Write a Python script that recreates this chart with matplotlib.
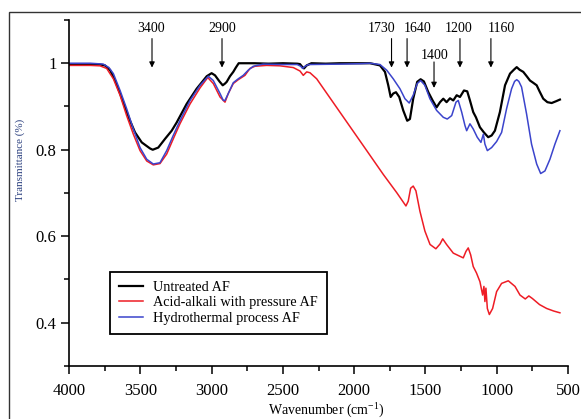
import numpy as np
import matplotlib.pyplot as plt
from matplotlib.patches import Rectangle
from matplotlib.ticker import MultipleLocator

plt.rcParams['font.family'] = ['Liberation Serif', 'DejaVu Serif']
plt.rcParams['mathtext.fontset'] = 'custom'
plt.rcParams['mathtext.rm'] = 'Liberation Serif'

# FTIR spectra (wavenumber cm-1, transmittance)
untreated_wn = [4000, 3850, 3783, 3748, 3712, 3677, 3642, 3607, 3572, 3537, 3490, 3432, 3413,
                3374, 3327, 3280, 3245, 3175, 3105, 3034, 3000, 2976, 2945, 2922, 2906, 2894,
                2871, 2848, 2830, 2810, 2700, 2600, 2500, 2400, 2380, 2368, 2352, 2333, 2300,
                2200, 2100, 2000, 1889, 1819, 1784, 1761, 1744, 1726, 1707, 1684, 1656, 1628,
                1609, 1586, 1558, 1534, 1511, 1480, 1450, 1422, 1398, 1375, 1352, 1328, 1305,
                1281, 1258, 1230, 1207, 1188, 1165, 1146, 1118, 1090, 1060, 1036, 1013, 978,
                942, 907, 880, 860, 840, 814, 790, 767, 745, 720, 700, 674, 645, 615, 585, 557]
untreated_t = [0.998, 0.998, 0.997, 0.995, 0.984, 0.960, 0.930, 0.898, 0.867, 0.840, 0.817, 0.803, 0.800,
               0.805, 0.825, 0.844, 0.863, 0.906, 0.941, 0.970, 0.977, 0.972, 0.958, 0.949, 0.953, 0.957,
               0.970, 0.980, 0.990, 1.000, 1.000, 0.999, 1.000, 0.999, 0.998, 0.993, 0.988, 0.995, 1.000,
               0.999, 1.000, 1.000, 1.000, 0.995, 0.980, 0.949, 0.922, 0.930, 0.933, 0.922, 0.891, 0.867,
               0.871, 0.918, 0.957, 0.963, 0.958, 0.933, 0.914, 0.898, 0.910, 0.918, 0.910, 0.919, 0.914,
               0.926, 0.922, 0.937, 0.935, 0.914, 0.887, 0.875, 0.852, 0.840, 0.829, 0.833, 0.844, 0.887,
               0.949, 0.976, 0.985, 0.991, 0.985, 0.980, 0.970, 0.960, 0.955, 0.949, 0.935, 0.918, 0.910, 0.908, 0.912, 0.916]

acid_wn = [4000, 3850, 3783, 3736, 3689, 3642, 3596, 3549, 3502, 3455, 3409, 3362, 3315, 3269,
           3222, 3151, 3081, 3027, 2988, 2941, 2906, 2883, 2848, 2813, 2766, 2731, 2696, 2614,
           2520, 2427, 2380, 2357, 2333, 2310, 2263, 1912, 1796, 1702, 1637, 1621, 1604, 1586,
           1567, 1539, 1504, 1468, 1427, 1398, 1379, 1352, 1305, 1235, 1216, 1200, 1183, 1165,
           1142, 1118, 1099, 1090, 1083, 1076, 1066, 1052, 1029, 1001, 966, 919, 872, 837, 800,
           775, 750, 700, 650, 600, 557]
acid_t = [0.995, 0.995, 0.994, 0.988, 0.964, 0.926, 0.879, 0.836, 0.798, 0.774, 0.765, 0.768, 0.790, 0.825,
          0.860, 0.906, 0.943, 0.967, 0.953, 0.922, 0.910, 0.930, 0.953, 0.962, 0.972, 0.988, 0.993, 0.995,
          0.994, 0.990, 0.982, 0.972, 0.980, 0.978, 0.964, 0.798, 0.743, 0.701, 0.670, 0.681, 0.711, 0.716,
          0.705, 0.658, 0.612, 0.581, 0.571, 0.582, 0.594, 0.581, 0.561, 0.550, 0.565, 0.573, 0.557, 0.530,
          0.515, 0.495, 0.464, 0.484, 0.449, 0.480, 0.433, 0.419, 0.433, 0.472, 0.491, 0.497, 0.484, 0.464, 0.455,
          0.462, 0.456, 0.442, 0.433, 0.427, 0.423]

hydro_wn = [4000, 3850, 3760, 3720, 3689, 3642, 3596, 3549, 3502, 3455, 3409, 3362, 3315, 3269,
            3222, 3151, 3081, 3023, 2988, 2941, 2918, 2906, 2883, 2848, 2813, 2778, 2743, 2708,
            2638, 2500, 2400, 2375, 2362, 2345, 2320, 2100, 1950, 1889, 1819, 1772, 1726, 1679,
            1644, 1614, 1586, 1558, 1534, 1504, 1469, 1422, 1375, 1347, 1316, 1286, 1270, 1246,
            1223, 1211, 1188, 1165, 1137, 1111, 1094, 1083, 1066, 1036, 1001, 966, 931, 896, 875,
            860, 845, 826, 791, 756, 720, 692, 662, 627, 592, 557]
hydro_t = [1.000, 1.000, 0.998, 0.990, 0.976, 0.937, 0.895, 0.848, 0.805, 0.778, 0.767, 0.770, 0.798, 0.833,
           0.867, 0.914, 0.949, 0.970, 0.960, 0.930, 0.914, 0.914, 0.930, 0.955, 0.964, 0.972, 0.984, 0.993,
           0.998, 0.997, 0.997, 0.993, 0.988, 0.993, 0.997, 0.998, 0.999, 1.000, 0.997, 0.984, 0.964, 0.941,
           0.918, 0.908, 0.926, 0.953, 0.960, 0.949, 0.918, 0.891, 0.875, 0.871, 0.879, 0.910, 0.914, 0.887,
           0.856, 0.844, 0.860, 0.848, 0.829, 0.817, 0.836, 0.813, 0.798, 0.805, 0.819, 0.840, 0.895, 0.941, 0.958,
           0.962, 0.958, 0.945, 0.883, 0.813, 0.767, 0.745, 0.751, 0.778, 0.813, 0.844]

# peak markers: label text, arrow position, label position
peak_labels = ['3400', '2900', '1730', '1640', '1400', '1200', '1160']
arrow_wn = [3418, 2927, 1738, 1629, 1440, 1258, 1041]
label_wn = [3425, 2923, 1805, 1553, 1433, 1265, 971]

fig = plt.figure(figsize=(5.81, 4.19), dpi=100)
ax = fig.add_axes([0.1188, 0.1265, 0.8589, 0.8258])

ax.plot(untreated_wn, untreated_t, color='black', lw=1.6, label='Untreated AF')
ax.plot(acid_wn, acid_t, color='#ee1c25', lw=1.1, label='Acid-alkali with pressure AF')
ax.plot(hydro_wn, hydro_t, color='#3b44cc', lw=1.1, label='Hydrothermal process AF')

ax.set_xlim(4000, 500)
ax.set_ylim(0.3, 1.1)

for lab, aw, lw_ in zip(peak_labels, arrow_wn, label_wn):
    if lab == '1400':
        top, tip, ty = 1.003, 0.943, 1.019
    else:
        top, tip, ty = 1.057, 0.99, 1.081
    ax.annotate('', xy=(aw, tip), xytext=(aw, top),
                arrowprops=dict(arrowstyle='-|>', color='black', lw=0.8, mutation_scale=8,
                                shrinkA=0, shrinkB=0))
    ax.text(lw_, ty, lab, ha='center', va='center', fontsize=10)

ax.xaxis.set_major_locator(MultipleLocator(500))
ax.xaxis.set_minor_locator(MultipleLocator(250))
ax.set_yticks([0.4, 0.6, 0.8, 1.0])
ax.set_yticklabels(['0.4', '0.6', '0.8', '1'])
ax.set_yticks([0.3, 0.5, 0.7, 0.9, 1.1], minor=True)
ax.tick_params(axis='both', which='major', direction='out', length=6, width=1.1, labelsize=12)
ax.tick_params(axis='x', which='major', pad=6)
ax.tick_params(axis='y', which='major', pad=3)
ax.tick_params(axis='both', which='minor', direction='out', length=3.5, width=1.1)

for s in ['top', 'right']:
    ax.spines[s].set_visible(False)
for s in ['left', 'bottom']:
    ax.spines[s].set_linewidth(1.2)

ax.set_xlabel('Wavenumber (cm$^{-1}$)', fontsize=10)
ax.xaxis.set_label_coords(0.515, -0.098)
ax.set_ylabel('Transmittance (%)', fontsize=8, color='#2a3f7e')
ax.yaxis.set_label_coords(-0.088, 0.595)

leg = ax.legend(loc='upper left', bbox_to_anchor=(0.082, 0.272), borderaxespad=0,
                fontsize=10.3, handlelength=1.65, handletextpad=0.7, labelspacing=0.15,
                borderpad=0.65, fancybox=False, framealpha=1)
leg.get_frame().set_edgecolor('black')
leg.get_frame().set_linewidth(1.3)

# outer border of the original figure (cropped on the right and bottom)
fig.patches.append(Rectangle((9 / 581, -0.1), 1.2, 1 - 12 / 419 + 0.1, transform=fig.transFigure,
                             fill=False, edgecolor='#333333', lw=1.0))

fig.savefig('out.png', dpi=100)
